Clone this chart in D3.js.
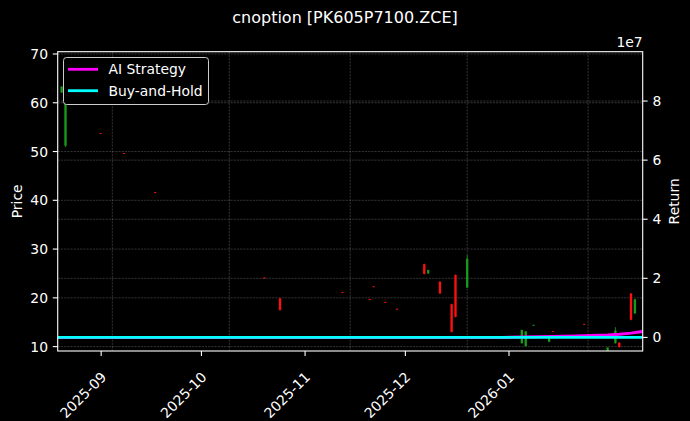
<!DOCTYPE html>
<html>
<head>
<meta charset="utf-8">
<script src="https://cdn.jsdelivr.net/npm/d3@7"></script>
<style>
  html, body { margin: 0; padding: 0; background: #000; }
  svg { display: block; font-family: "DejaVu Sans", sans-serif; }
</style>
</head>
<body>
<svg id="chart"></svg>
<script>
// daily bars
const candleDates = ["2025-08-19","2025-08-20","2025-08-29","2025-09-04","2025-09-12","2025-10-10","2025-10-14","2025-10-30","2025-11-06","2025-11-07","2025-11-10","2025-11-13","2025-11-20","2025-11-21","2025-11-24","2025-11-27","2025-11-28","2025-12-01","2025-12-15","2025-12-16","2025-12-18","2025-12-22","2025-12-23","2025-12-31","2026-01-06","2026-01-08","2026-01-09","2026-01-12","2026-01-13"];
const opens  = [62.1, 51.2, 53.75, 49.65, 41.65, 24.15, 19.9, 21.15, 19.75, 22.35, 19.15, 17.75, 26.9, 25.0, 23.3, 18.7, 24.7, 22.1, 10.7, 10.1, 14.35, 11.0, 13.15, 14.65, 8.8, 10.7, 10.8, 20.9, 16.8];
const highs  = [63.4, 62.3, 53.8, 49.7, 41.7, 24.2, 20.0, 21.2, 19.8, 22.4, 19.2, 17.8, 27.0, 25.8, 23.4, 18.8, 24.8, 28.8, 13.5, 13.2, 14.5, 11.8, 13.2, 14.7, 9.9, 14.0, 10.9, 21.0, 19.8];
const lows   = [62.0, 50.9, 53.6, 49.5, 41.5, 24.0, 17.4, 21.0, 19.6, 22.2, 19.0, 17.6, 24.8, 24.9, 20.8, 12.9, 16.0, 22.0, 10.6, 10.0, 14.3, 10.9, 13.0, 14.5, 8.7, 10.6, 9.8, 15.4, 16.7];
const closes = [63.3, 61.8, 53.65, 49.55, 41.55, 24.05, 17.5, 21.05, 19.65, 22.25, 19.05, 17.65, 24.9, 25.7, 20.9, 13.0, 16.1, 28.0, 13.4, 13.1, 14.45, 11.7, 13.05, 14.55, 9.8, 13.3, 9.9, 15.5, 19.7];

// return curves
const lineDates  = ["2025-08-18","2025-09-15","2025-10-15","2025-11-14","2025-12-10","2025-12-15","2025-12-19","2025-12-23","2025-12-29","2026-01-02","2026-01-06","2026-01-09","2026-01-12","2026-01-14","2026-01-15"];
const aiStrategy = [0, 0, 0, 0, 0, 100000, 250000, 350000, 500000, 650000, 850000, 1100000, 1450000, 1800000, 2000000];
const buyHold    = [0, 0, 0, 0, 0, 0, 0, 0, 0, 0, 0, 0, 0, 0, 0];

// ticks
const monthTicks  = ["2025-09-01","2025-10-01","2025-11-01","2025-12-01","2026-01-01"];
const priceTicks  = [10, 20, 30, 40, 50, 60, 70];
const returnTicks = [0, 2e7, 4e7, 6e7, 8e7];

const width = 690, height = 421;
const plotLeft = 57.7, plotRight = 642.7, plotTop = 51.7, plotBottom = 351;
const fontSize = 13.9;

const parse = d3.utcParse("%Y-%m-%d");
const day = 864e5;

const svg = d3.select("#chart")
  .attr("width", width)
  .attr("height", height);

svg.append("rect").attr("width", width).attr("height", height).attr("fill", "#000");

// bottom labels and the plotted data sit on slightly different time ranges
const xLabel = d3.scaleUtc()
  .domain([parse("2025-08-19"), parse("2026-02-10")])
  .range([plotLeft, plotRight]);
const xData = d3.scaleUtc()
  .domain([parse("2025-08-18"), parse("2026-01-15")])
  .range([plotLeft, plotRight]);
const yPrice = d3.scaleLinear().domain([9.1, 70.47]).range([plotBottom, plotTop]);
const yRet = d3.scaleLinear().domain([-0.46e7, 9.67e7]).range([plotBottom, plotTop]);

svg.append("clipPath").attr("id", "plot-clip")
  .append("rect")
  .attr("x", plotLeft).attr("y", plotTop)
  .attr("width", plotRight - plotLeft).attr("height", plotBottom - plotTop);

// grid
const grid = svg.append("g")
  .attr("stroke", "rgba(255,255,255,0.32)")
  .attr("stroke-width", 0.6)
  .attr("stroke-dasharray", "2.2,1");

grid.selectAll(".vgrid")
  .data(monthTicks)
  .enter()
  .append("line")
  .attr("x1", d => xData(parse(d)))
  .attr("x2", d => xData(parse(d)))
  .attr("y1", plotTop).attr("y2", plotBottom);

grid.selectAll(".pgrid")
  .data(priceTicks)
  .enter()
  .append("line")
  .attr("x1", plotLeft).attr("x2", plotRight)
  .attr("y1", d => yPrice(d)).attr("y2", d => yPrice(d));

grid.selectAll(".rgrid")
  .data(returnTicks)
  .enter()
  .append("line")
  .attr("x1", plotLeft).attr("x2", plotRight)
  .attr("y1", d => yRet(d)).attr("y2", d => yRet(d));

// candles
const candles = candleDates.map((d, i) => ({
  date: parse(d), open: opens[i], high: highs[i], low: lows[i], close: closes[i]
}));

const candleG = svg.append("g").attr("clip-path", "url(#plot-clip)");

const bar = candleG.selectAll("g")
  .data(candles)
  .enter()
  .append("g")
  .attr("fill", d => d.close >= d.open ? "#1a9a1a" : "#ff1010")
  .attr("stroke", d => d.close >= d.open ? "#1a9a1a" : "#ff1010");

bar.append("line")
  .attr("x1", d => xData(d.date))
  .attr("x2", d => xData(d.date))
  .attr("y1", d => yPrice(d.high))
  .attr("y2", d => yPrice(d.low))
  .attr("stroke-width", 0.8);

bar.append("rect")
  .attr("stroke", "none")
  .attr("x", d => xData(new Date(+d.date - 0.3 * day)))
  .attr("width", d => xData(new Date(+d.date + 0.3 * day)) - xData(new Date(+d.date - 0.3 * day)))
  .attr("y", d => yPrice(Math.max(d.open, d.close)))
  .attr("height", d => Math.max(Math.abs(yPrice(d.open) - yPrice(d.close)), 0.8));

// return lines
const line = d3.line()
  .x(d => xData(d[0]))
  .y(d => yRet(d[1]));

const lineG = svg.append("g").attr("clip-path", "url(#plot-clip)").attr("fill", "none");

lineG.append("path")
  .datum(lineDates.map((d, i) => [parse(d), aiStrategy[i]]))
  .attr("d", line)
  .attr("stroke", "#ff00ff")
  .attr("stroke-width", 3);

lineG.append("path")
  .datum(lineDates.map((d, i) => [parse(d), buyHold[i]]))
  .attr("d", line)
  .attr("stroke", "#00ffff")
  .attr("stroke-width", 2.8);

// frame
svg.append("rect")
  .attr("x", plotLeft).attr("y", plotTop)
  .attr("width", plotRight - plotLeft).attr("height", plotBottom - plotTop)
  .attr("fill", "none")
  .attr("stroke", "#fff")
  .attr("stroke-width", 1.1);

// x axis
const xAxis = svg.append("g").attr("fill", "#fff").attr("font-size", fontSize);
xAxis.selectAll("line")
  .data(monthTicks)
  .enter()
  .append("line")
  .attr("x1", d => xLabel(parse(d))).attr("x2", d => xLabel(parse(d)))
  .attr("y1", plotBottom).attr("y2", plotBottom + 4.9)
  .attr("stroke", "#fff").attr("stroke-width", 1.1);
xAxis.selectAll("text")
  .data(monthTicks)
  .enter()
  .append("text")
  .attr("text-anchor", "end")
  .attr("transform", d => `translate(${xLabel(parse(d)) + 6},${plotBottom + 27}) rotate(-45)`)
  .text(d => d3.utcFormat("%Y-%m")(parse(d)));

// left axis
const yAxisL = svg.append("g").attr("fill", "#fff").attr("font-size", fontSize);
yAxisL.selectAll("line")
  .data(priceTicks)
  .enter()
  .append("line")
  .attr("x1", plotLeft - 4.9).attr("x2", plotLeft)
  .attr("y1", d => yPrice(d)).attr("y2", d => yPrice(d))
  .attr("stroke", "#fff").attr("stroke-width", 1.1);
yAxisL.selectAll("text")
  .data(priceTicks)
  .enter()
  .append("text")
  .attr("x", plotLeft - 9.7)
  .attr("y", d => yPrice(d))
  .attr("dy", "0.36em")
  .attr("text-anchor", "end")
  .text(d => d);
yAxisL.append("text")
  .attr("transform", `translate(17,${(plotTop + plotBottom) / 2}) rotate(-90)`)
  .attr("text-anchor", "middle")
  .attr("dy", "0.36em")
  .text("Price");

// right axis
const yAxisR = svg.append("g").attr("fill", "#fff").attr("font-size", fontSize);
yAxisR.selectAll("line")
  .data(returnTicks)
  .enter()
  .append("line")
  .attr("x1", plotRight).attr("x2", plotRight + 4.9)
  .attr("y1", d => yRet(d)).attr("y2", d => yRet(d))
  .attr("stroke", "#fff").attr("stroke-width", 1.1);
yAxisR.selectAll("text")
  .data(returnTicks)
  .enter()
  .append("text")
  .attr("x", plotRight + 9.7)
  .attr("y", d => yRet(d))
  .attr("dy", "0.36em")
  .text(d => d / 1e7);
yAxisR.append("text")
  .attr("x", plotRight)
  .attr("y", plotTop - 5)
  .attr("text-anchor", "end")
  .text("1e7");
yAxisR.append("text")
  .attr("transform", `translate(674,${(plotTop + plotBottom) / 2}) rotate(-90)`)
  .attr("text-anchor", "middle")
  .attr("dy", "0.36em")
  .text("Return");

// legend
const legend = svg.append("g").attr("font-size", fontSize);
legend.append("rect")
  .attr("x", 63.5).attr("y", 57.5)
  .attr("width", 145).attr("height", 47)
  .attr("rx", 3)
  .attr("fill", "#000")
  .attr("stroke", "#ccc")
  .attr("stroke-width", 1);

const legendItems = [["AI Strategy", "#ff00ff"], ["Buy-and-Hold", "#00ffff"]];
const item = legend.selectAll(".legend-item")
  .data(legendItems)
  .enter()
  .append("g")
  .attr("transform", (d, i) => `translate(0,${69.3 + i * 21.4})`);
item.append("line")
  .attr("x1", 68).attr("x2", 98)
  .attr("stroke", d => d[1])
  .attr("stroke-width", 2.8);
item.append("text")
  .attr("x", 108.5)
  .attr("dy", "0.36em")
  .attr("fill", "#fff")
  .text(d => d[0]);

// title
svg.append("text")
  .attr("x", width / 2)
  .attr("y", 23)
  .attr("text-anchor", "middle")
  .attr("fill", "#fff")
  .attr("font-size", 16)
  .text("cnoption [PK605P7100.ZCE]");
</script>
</body>
</html>
